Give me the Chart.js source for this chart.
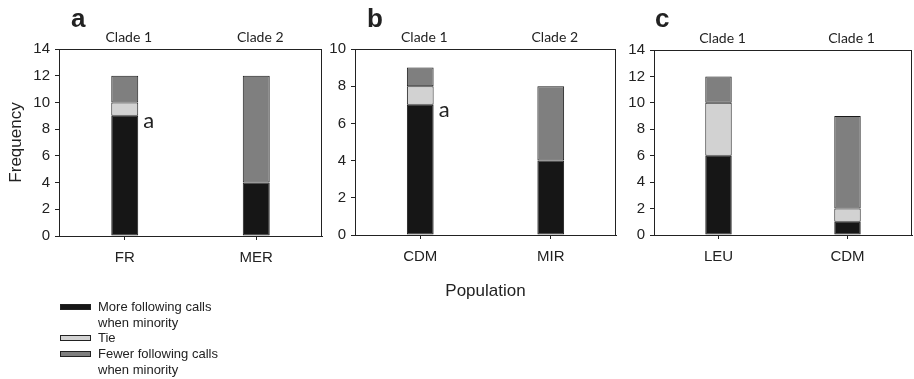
<!DOCTYPE html>
<html><head><meta charset="utf-8">
<script src="https://cdn.jsdelivr.net/npm/chart.js@4"></script>
<style>
html,body{margin:0;padding:0;background:#fff;}
body{width:914px;height:379px;overflow:hidden;position:relative;font-family:"Liberation Sans",Arial,sans-serif;color:#222;}
canvas{position:absolute;top:0;}
.lg{position:absolute;left:0;top:0;font-size:13px;line-height:15.5px;}
.sw{position:absolute;left:60px;width:29px;height:4px;border:1px solid #222;}
.tx{position:absolute;left:98px;white-space:nowrap;}
</style>
</head><body>
<canvas id="ca" width="330" height="300" style="left:0"></canvas>
<canvas id="cb" width="290" height="300" style="left:330px"></canvas>
<canvas id="cc" width="294" height="300" style="left:620px"></canvas>
<div class="lg" id="legend"></div>
<script>
// ---- data ----
const seriesNames = ['More following calls\nwhen minority', 'Tie', 'Fewer following calls\nwhen minority'];
const seriesColors = ['#161616', '#d2d2d2', '#7f7f7f'];

const populationsA = ['FR', 'MER'];
const cladesA = ['Clade 1', 'Clade 2'];
const moreA = [9, 4];
const tieA = [1, 0];
const fewerA = [2, 8];
const marksA = ['a', ''];
const yTicksMaxA = 14;

const populationsB = ['CDM', 'MIR'];
const cladesB = ['Clade 1', 'Clade 2'];
const moreB = [7, 4];
const tieB = [1, 0];
const fewerB = [1, 4];
const marksB = ['a', ''];
const yTicksMaxB = 10;

const populationsC = ['LEU', 'CDM'];
const cladesC = ['Clade 1', 'Clade 1'];
const moreC = [6, 1];
const tieC = [4, 1];
const fewerC = [2, 7];
const marksC = ['', ''];
const yTicksMaxC = 14;

const yStep = 2;
const yTitle = 'Frequency';
const xTitle = 'Population';

// ---- drawing ----
const INK = '#222';
const decor = {
  id: 'decor',
  afterDraw(chart, args, o) {
    const {ctx, chartArea: a, scales: {x}} = chart;
    ctx.save();
    ctx.strokeStyle = INK; ctx.lineWidth = 1;
    ctx.strokeRect(Math.round(a.left) + 0.5, Math.round(a.top) + 0.5, Math.round(a.right - a.left) - 1, Math.round(a.bottom - a.top));
    ctx.fillStyle = INK;
    ctx.font = '14px Lato';
    ctx.textAlign = 'center'; ctx.textBaseline = 'middle';
    o.clades.forEach((c, i) => ctx.fillText(c, x.getPixelForValue(i) + 4, a.top - 12));
    ctx.font = '22px Lato';
    ctx.textAlign = 'left'; ctx.textBaseline = 'alphabetic';
    const meta = chart.getDatasetMeta(0);
    o.marks.forEach((m, i) => {
      if (!m) return;
      const b = meta.data[i];
      ctx.fillText(m, b.x + b.width / 2 + 5, b.y + 12.5);
    });
    ctx.font = 'bold 26px "Liberation Sans", Arial';
    ctx.fillText(o.letter, a.left + o.letterOffset, 27);
    ctx.restore();
  }
};

function makePanel(id, cfg) {
  const datasets = [cfg.more, cfg.tie, cfg.fewer].map((d, k) => ({
    label: seriesNames[k], data: d, backgroundColor: seriesColors[k],
    borderColor: '#1a1a1a', borderWidth: 1, borderSkipped: false,
    categoryPercentage: 1, barPercentage: 0.205
  }));
  return new Chart(document.getElementById(id), {
    type: 'bar',
    data: {labels: cfg.labels, datasets},
    plugins: [decor],
    options: {
      responsive: false, animation: false, devicePixelRatio: 1,
      layout: {padding: {top: cfg.top, right: cfg.right, left: 0, bottom: 0}},
      plugins: {
        legend: {display: false}, tooltip: {enabled: false},
        decor: {clades: cfg.clades, marks: cfg.marks, letter: cfg.letter, letterOffset: cfg.letterOffset}
      },
      scales: {
        x: {
          stacked: true,
          grid: {offset: false, drawOnChartArea: false, drawTicks: true, tickLength: 4, color: INK},
          border: {display: true, color: INK},
          ticks: {color: INK, font: {family: '"Liberation Sans", Arial', size: 15}, padding: 9},
          title: {display: !!cfg.xTitle, text: cfg.xTitle || '', color: INK,
                  font: {family: '"Liberation Sans", Arial', size: 17}, padding: {top: 0, bottom: -2}},
          afterFit: s => { s.height = 300 - cfg.bottom; }
        },
        y: {
          stacked: true, min: 0, max: cfg.yMax,
          grid: {drawOnChartArea: false, drawTicks: true, tickLength: 4, color: INK},
          border: {display: true, color: INK},
          ticks: {stepSize: yStep, color: INK, font: {family: '"Liberation Sans", Arial', size: 15}, padding: 5},
          title: {display: !!cfg.yTitle, text: cfg.yTitle || '', color: INK,
                  font: {family: '"Liberation Sans", Arial', size: 17}, padding: {top: 6, bottom: 0}},
          afterFit: s => { s.width = cfg.yWidth; }
        }
      }
    }
  });
}

makePanel('ca', {labels: populationsA, clades: cladesA, more: moreA, tie: tieA, fewer: fewerA, marks: marksA,
  yMax: yTicksMaxA, letter: 'a', letterOffset: 12, top: 49, bottom: 236, right: 8, yWidth: 59, yTitle: yTitle});
makePanel('cb', {labels: populationsB, clades: cladesB, more: moreB, tie: tieB, fewer: fewerB, marks: marksB,
  yMax: yTicksMaxB, letter: 'b', letterOffset: 12, top: 49, bottom: 235, right: 4, yWidth: 25, xTitle: xTitle});
makePanel('cc', {labels: populationsC, clades: cladesC, more: moreC, tie: tieC, fewer: fewerC, marks: marksC,
  yMax: yTicksMaxC, letter: 'c', letterOffset: 1, top: 50, bottom: 235, right: 2, yWidth: 34});

// ---- HTML legend ----
const lg = document.getElementById('legend');
const rowTops = [299, 330, 346];
seriesNames.forEach((name, k) => {
  const sw = document.createElement('div');
  sw.className = 'sw'; sw.style.background = seriesColors[k]; sw.style.top = (rowTops[k] + 5) + 'px';
  lg.appendChild(sw);
  const t = document.createElement('div');
  t.className = 'tx'; t.style.top = rowTops[k] + 'px';
  t.innerHTML = name.split('\n').join('<br>');
  lg.appendChild(t);
});
</script>
</body></html>
